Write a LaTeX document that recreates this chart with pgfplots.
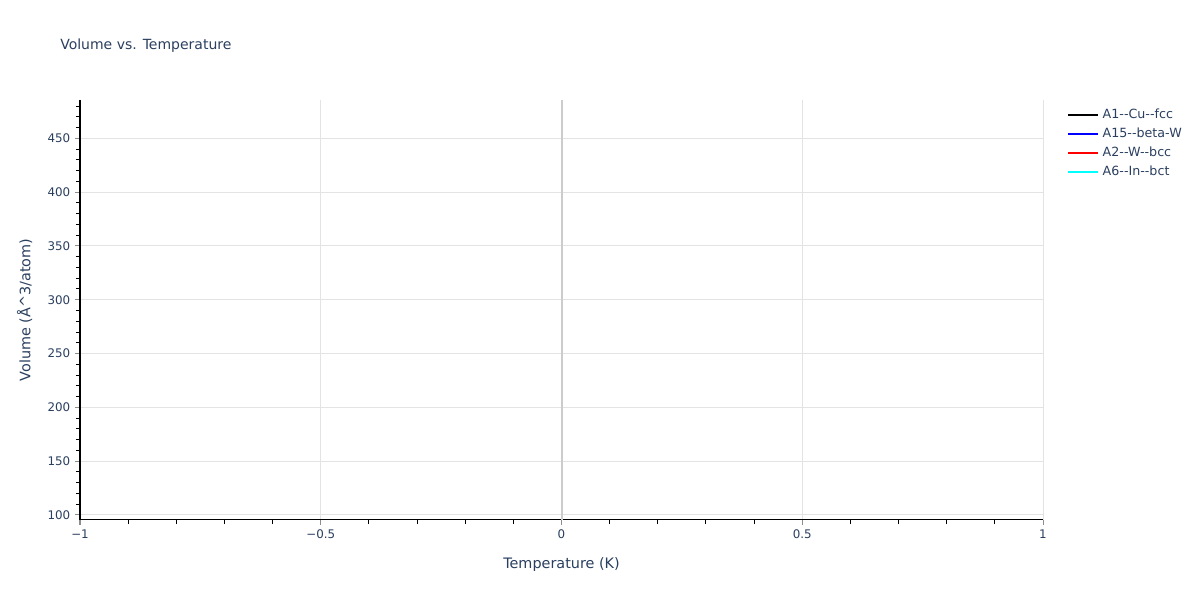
\documentclass[border=0pt]{standalone}
\usepackage{fontspec}
\setmainfont{DejaVu Sans}
\usepackage{pgfplots}
\pgfplotsset{compat=1.18}
\definecolor{txt}{HTML}{2A3F5F}
\definecolor{gridc}{HTML}{E3E3E3}
\definecolor{zeroc}{HTML}{CCCCCC}
\definecolor{tickg}{HTML}{8C8C8C}
\definecolor{cyanc}{RGB}{0,255,255}
\definecolor{bluec}{RGB}{0,0,255}
\definecolor{redc}{RGB}{255,0,0}
\begin{document}
\begin{tikzpicture}
\path[use as bounding box] (0pt,0pt) rectangle (900pt,450pt);
\node[anchor=base west, font=\fontsize{10.5}{12}\selectfont, text=txt, inner sep=0pt] at (45pt,412.5pt) {Volume vs. Temperature};
\begin{axis}[
  at={(60pt,60pt)}, anchor=south west, scale only axis,
  width=722.25pt, height=315pt,
  xmin=-1, xmax=1, ymin=95.35, ymax=485.6,
  axis lines*=left,
  axis line style={black, line width=0.75pt, -},
  xtick={-1,-0.5,0.5,1},
  xticklabels={−1,−0.5,0.5,1},
  minor xtick={-0.9,-0.8,-0.7,-0.6,-0.4,-0.3,-0.2,-0.1,0.1,0.2,0.3,0.4,0.6,0.7,0.8,0.9},
  ytick={100,150,200,250,300,350,400,450},
  minor ytick={110,120,130,140,160,170,180,190,210,220,230,240,260,270,280,290,310,320,330,340,360,370,380,390,410,420,430,440,460,470,480},
  /pgf/number format/assume math mode=true,
  tick align=outside,
  major tick length=3.75pt, minor tick length=3pt,
  major tick style={draw=tickg, line width=0.75pt},
  minor tick style={draw=black, line width=0.75pt},
  xmajorgrids, ymajorgrids,
  major grid style={draw=gridc, line width=0.75pt},
  extra x ticks={0}, extra x tick labels={0},
  extra x tick style={major grid style={draw=zeroc, line width=1.5pt}},
  tick label style={font=\fontsize{8.9}{10}\selectfont, text=txt},
  xlabel={Temperature (K)},
  ylabel={Volume (Å\^{}3/atom)},
  label style={font=\fontsize{10.8}{12}\selectfont, text=txt},
  x label style={at={([yshift=-33.3pt]axis description cs:0.5,0)}, anchor=center},
  y label style={at={([xshift=-41.6pt]axis description cs:0,0.5)}, anchor=center},
  legend style={at={(axis description cs:1.0249,0.988)}, anchor=north west,
    draw=none, fill=none, font=\fontsize{9.5}{10}\selectfont, text=txt,
    row sep=0pt, inner sep=0pt,
    nodes={text height=7pt, text depth=2.1pt, inner sep=2.6pt}},
  legend cell align=left,
  legend image code/.code={\draw[#1, line width=1.5pt] (0pt,0pt) -- (22.5pt,0pt);},
]
\addplot[black, no marks, line width=1.5pt] coordinates {(0,120)};
\addlegendentry{A1-{}-Cu-{}-fcc}
\addplot[bluec, no marks, line width=1.5pt] coordinates {(0,460)};
\addlegendentry{A15-{}-beta-W}
\addplot[redc, no marks, line width=1.5pt] coordinates {(0,180)};
\addlegendentry{A2-{}-W-{}-bcc}
\addplot[cyanc, no marks, line width=1.5pt] coordinates {(0,300)};
\addlegendentry{A6-{}-In-{}-bct}
\end{axis}
\end{tikzpicture}
\end{document}
